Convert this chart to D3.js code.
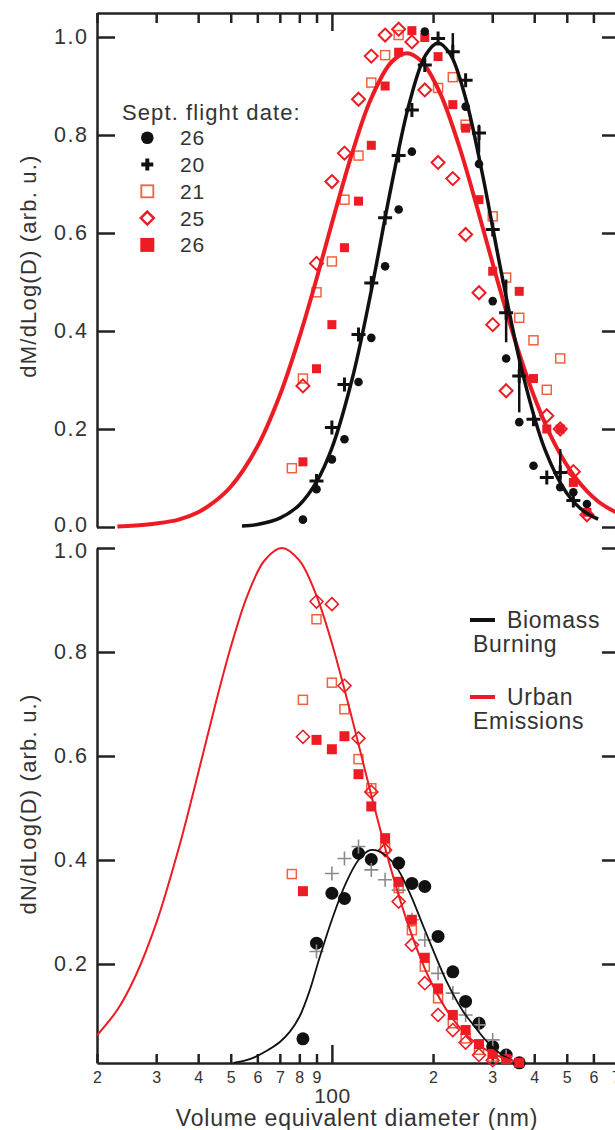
<!DOCTYPE html>
<html><head><meta charset="utf-8">
<script src="https://cdn.jsdelivr.net/npm/d3@7"></script>
<style>
body{margin:0;background:#fff;}
svg{display:block;font-family:"Liberation Sans",Arial,Helvetica,sans-serif;}
</style></head><body>
<svg id="c" width="615" height="1130"></svg>
<script>
// ---------- tick labels / categories ----------
const xTickValues = [20,30,40,50,60,70,80,90,100,200,300,400,500,600,700];
const xTickLabels = ["2","3","4","5","6","7","8","9","100","2","3","4","5","6","7"];
const yTickTop = [0,0.2,0.4,0.6,0.8,1.0];
const yTickBottom = [0.2,0.4,0.6,0.8,1.0];
const legendDates = ["26","20","21","25","26"];
const fitLegend = [["Biomass","Burning"],["Urban","Emissions"]];

// ---------- top panel: dM/dLog(D), [diameter nm, value] ----------
const massDots26 = [[82,0.015],[90,0.077],[100,0.138],[109,0.179],[120,0.296],[131,0.386],[144,0.532],[158,0.648],[173,0.766],[189,1.011],[250,0.858],[274,0.741],[301,0.461],[330,0.344],[361,0.214],[398,0.125],[478,0.081],[523,0.071],[574,0.047]];
const massPlus20 = [[90,0.094],[100,0.203],[109,0.291],[120,0.393],[131,0.498],[144,0.631],[158,0.758],[173,0.851],[189,0.943],[207,0.997],[229,0.970],[250,0.912],[274,0.804],[301,0.607],[330,0.437],[361,0.308],[398,0.220],[436,0.101],[478,0.111],[523,0.054]];
const massPlus20Err = [[229,0.957,1.008],[274,0.764,0.821],[330,0.377,0.505],[361,0.234,0.348],[478,0.084,0.159]];
const massOpenSq21 = [[76,0.120],[82,0.303],[90,0.479],[100,0.542],[109,0.668],[120,0.758],[131,0.907],[144,0.963],[158,1.004],[207,0.896],[229,0.918],[250,0.821],[301,0.634],[330,0.509],[361,0.427],[398,0.381],[436,0.280],[478,0.344]];
const massDiamond25 = [[82,0.288],[90,0.538],[100,0.705],[109,0.763],[120,0.873],[131,0.961],[144,1.004],[158,1.016],[173,0.990],[189,0.892],[207,0.744],[229,0.711],[250,0.597],[274,0.478],[301,0.413],[330,0.278],[436,0.227],[478,0.200],[523,0.113],[574,0.025]];
const massFilledSq26 = [[82,0.133],[90,0.323],[100,0.413],[109,0.570],[120,0.665],[131,0.779],[144,0.900],[158,0.969],[173,1.013],[189,0.999],[207,0.960],[229,0.862],[250,0.814],[274,0.668],[301,0.522],[361,0.481],[398,0.303],[436,0.200],[478,0.200],[523,0.091],[574,0.030]];
const massFitBiomass = [[54,0.002],[60,0.005],[70,0.018],[80,0.045],[90,0.092],[100,0.161],[115,0.303],[130,0.471],[150,0.693],[170,0.865],[190,0.963],[207,0.988],[225,0.965],[250,0.875],[280,0.723],[320,0.516],[370,0.312],[430,0.159],[500,0.069],[560,0.033],[620,0.016]];
const massFitUrban = [[23,0.001],[26,0.003],[30,0.007],[35,0.015],[40,0.030],[45,0.053],[50,0.082],[60,0.164],[70,0.269],[80,0.387],[90,0.506],[100,0.620],[115,0.764],[130,0.870],[150,0.948],[167,0.967],[185,0.950],[210,0.885],[240,0.774],[270,0.654],[310,0.506],[350,0.383],[400,0.266],[460,0.170],[530,0.101],[620,0.052],[720,0.026]];

// ---------- bottom panel: dN/dLog(D) ----------
const numDots26 = [[82,0.056],[90,0.240],[100,0.336],[109,0.326],[120,0.413],[131,0.401],[158,0.394],[173,0.355],[189,0.349],[207,0.253],[229,0.185],[250,0.128],[274,0.086],[301,0.041],[330,0.025],[361,0.010]];
const numPlus20 = [[90,0.224],[100,0.374],[109,0.403],[120,0.426],[131,0.381],[144,0.362],[158,0.342],[173,0.285],[189,0.246],[207,0.182],[229,0.144],[250,0.102],[274,0.083],[301,0.054],[330,0.022]];
const numOpenSq21 = [[76,0.373],[82,0.708],[90,0.863],[100,0.741],[109,0.690],[120,0.594],[131,0.538],[144,0.423],[158,0.346],[173,0.265],[189,0.195],[207,0.134],[229,0.086],[250,0.057],[274,0.035],[301,0.022]];
const numDiamond25 = [[82,0.637],[90,0.897],[100,0.892],[109,0.735],[120,0.634],[131,0.531],[144,0.419],[158,0.320],[173,0.237],[189,0.163],[207,0.102],[229,0.073],[250,0.049],[274,0.025],[301,0.015]];
const numFilledSq26 = [[82,0.340],[90,0.631],[100,0.613],[109,0.638],[120,0.565],[131,0.503],[144,0.442],[158,0.358],[173,0.285],[189,0.212],[207,0.153],[229,0.102],[250,0.073],[274,0.046],[301,0.027],[330,0.017],[361,0.010]];
const numFitBiomass = [[51,0.010],[55,0.014],[59,0.021],[64,0.033],[70,0.050],[75,0.070],[80,0.098],[86,0.150],[91,0.203],[100,0.285],[110,0.355],[120,0.400],[130,0.419],[140,0.415],[155,0.388],[170,0.338],[190,0.262],[220,0.165],[245,0.110],[262,0.085],[290,0.050],[318,0.027],[350,0.012]];
const numFitUrban = [[20,0.063],[23,0.112],[26,0.176],[30,0.278],[35,0.422],[40,0.567],[45,0.699],[50,0.809],[56,0.908],[63,0.976],[71,1.0],[80,0.976],[90,0.908],[100,0.817],[115,0.670],[130,0.533],[150,0.382],[170,0.269],[195,0.172],[225,0.101],[260,0.055],[300,0.028],[340,0.015],[360,0.011]];

// ---------- styling ----------
const RED = "#ed1c24", CORAL = "#f2613f", BLACK = "#111", GREY = "#8a8a8a", TXT = "#333", AX = "#222";

const svg = d3.select("#c");
const x = d3.scaleLog().domain([20,720]).range([97,620]);
const yTop = d3.scaleLinear().domain([0,1.049]).range([527,13]);
const yBot = d3.scaleLinear().domain([0.0096,1.0]).range([1063,548]);

function styleAxis(g, fs, ls){
  g.attr("font-size",null).attr("font-family",null);
  g.selectAll("path.domain").attr("stroke",AX).attr("stroke-width",2.5);
  g.selectAll(".tick line").attr("stroke",AX).attr("stroke-width",2.5);
  g.selectAll("text").attr("fill",TXT).style("font-size",fs+"px").style("letter-spacing",ls+"px");
}

// axes top panel
svg.append("g").attr("transform","translate(97,0)")
  .call(d3.axisLeft(yTop).tickValues(yTickTop).tickFormat(d3.format(".1f")).tickSize(-18).tickSizeOuter(0).tickPadding(8.5))
  .call(g=>styleAxis(g,21.5,1.5))
  .call(g=>g.selectAll(".tick").filter(d=>d===0).select("text").attr("dy","0.2em"));
svg.append("g").attr("transform","translate(620,0)")
  .call(d3.axisRight(yTop).tickValues(yTickTop).tickFormat(()=>"").tickSize(-18).tickSizeOuter(0))
  .call(g=>styleAxis(g,22,0));
svg.append("g").attr("transform","translate(0,13)")
  .call(d3.axisTop(x).tickValues(xTickValues).tickFormat(()=>"").tickSize(-10).tickSizeOuter(0))
  .call(g=>styleAxis(g,16,0))
  .call(g=>g.selectAll(".tick").filter(d=>d===100).select("line").attr("y2",18));

// axes bottom panel
svg.append("g").attr("transform","translate(97,0)")
  .call(d3.axisLeft(yBot).tickValues(yTickBottom).tickFormat(d3.format(".1f")).tickSize(-18).tickSizeOuter(0).tickPadding(8.5))
  .call(g=>styleAxis(g,21.5,1.5))
  .call(g=>g.selectAll(".tick").filter(d=>d===1).select("text").attr("dy","0.42em"));
svg.append("g").attr("transform","translate(620,0)")
  .call(d3.axisRight(yBot).tickValues(yTickBottom).tickFormat(()=>"").tickSize(-18).tickSizeOuter(0))
  .call(g=>styleAxis(g,22,0));
svg.append("g").attr("transform","translate(0,1063)")
  .call(d3.axisBottom(x).tickValues(xTickValues).tickFormat((d,i)=>xTickLabels[i]).tickSize(-9).tickSizeOuter(0).tickPadding(9))
  .call(g=>styleAxis(g,16,0))
  .call(g=>{
    const t = g.selectAll(".tick").filter(d=>d===100);
    t.select("line").attr("y2",-18);
    t.select("text").attr("y",25).style("font-size","21px").style("letter-spacing","0.5px");
  });

// axis titles
svg.append("text").attr("x",357).attr("y",1126).attr("text-anchor","middle")
  .attr("fill",TXT).style("font-size","23px").style("letter-spacing","0.8px")
  .text("Volume equivalent diameter (nm)");
svg.append("text").attr("transform","translate(36,266) rotate(-90)").attr("text-anchor","middle")
  .attr("fill",TXT).style("font-size","22px").style("letter-spacing","1.2px")
  .text("dM/dLog(D) (arb. u.)");
svg.append("text").attr("transform","translate(36,804) rotate(-90)").attr("text-anchor","middle")
  .attr("fill",TXT).style("font-size","22px").style("letter-spacing","1.2px")
  .text("dN/dLog(D) (arb. u.)");

// marker helpers
function squares(g, data, yS, s, fill, stroke, sw){
  g.selectAll(null).data(data).join("rect")
    .attr("x",d=>x(d[0])-s/2).attr("y",d=>yS(d[1])-s/2).attr("width",s).attr("height",s)
    .attr("fill",fill).attr("stroke",stroke).attr("stroke-width",sw);
}
function diamonds(g, data, yS, h, stroke, sw){
  g.selectAll(null).data(data).join("path")
    .attr("d",d=>{const cx=x(d[0]),cy=yS(d[1]);return `M${cx},${cy-h}L${cx+h},${cy}L${cx},${cy+h}L${cx-h},${cy}Z`;})
    .attr("fill","none").attr("stroke",stroke).attr("stroke-width",sw);
}
function pluses(g, data, yS, h, stroke, sw){
  g.selectAll(null).data(data).join("path")
    .attr("d",d=>{const cx=x(d[0]),cy=yS(d[1]);return `M${cx-h},${cy}H${cx+h}M${cx},${cy-h}V${cy+h}`;})
    .attr("fill","none").attr("stroke",stroke).attr("stroke-width",sw);
}
function dots(g, data, yS, r, fill){
  g.selectAll(null).data(data).join("circle")
    .attr("cx",d=>x(d[0])).attr("cy",d=>yS(d[1])).attr("r",r).attr("fill",fill);
}
function curve(g, data, yS, stroke, sw){
  g.append("path").datum(data)
    .attr("d",d3.line().x(d=>x(d[0])).y(d=>yS(d[1])).curve(d3.curveCatmullRom.alpha(0.5)))
    .attr("fill","none").attr("stroke",stroke).attr("stroke-width",sw).attr("stroke-linejoin","round");
}

// ---------- top panel marks ----------
const gt = svg.append("g");
squares(gt, massOpenSq21, yTop, 9, "none", CORAL, 1.5);
diamonds(gt, massDiamond25, yTop, 6.5, RED, 2);
squares(gt, massFilledSq26, yTop, 9, RED, "none", 0);
curve(gt, massFitUrban, yTop, RED, 4);
curve(gt, massFitBiomass, yTop, BLACK, 3.5);
dots(gt, massDots26, yTop, 4.3, BLACK);
pluses(gt, massPlus20, yTop, 7, BLACK, 3);
gt.selectAll(null).data(massPlus20Err).join("line")
  .attr("x1",d=>x(d[0])).attr("x2",d=>x(d[0])).attr("y1",d=>yTop(d[1])).attr("y2",d=>yTop(d[2]))
  .attr("stroke",BLACK).attr("stroke-width",2.5);

// ---------- bottom panel marks ----------
const gb = svg.append("g");
dots(gb, numDots26, yBot, 6.5, BLACK);
pluses(gb, numPlus20, yBot, 7, GREY, 1.6);
squares(gb, numOpenSq21, yBot, 9, "none", CORAL, 1.5);
diamonds(gb, numDiamond25, yBot, 6.5, RED, 1.6);
squares(gb, numFilledSq26, yBot, 10, RED, "none", 0);
curve(gb, numFitBiomass, yBot, BLACK, 1.8);
curve(gb, numFitUrban, yBot, RED, 2);

// ---------- legend: flight dates ----------
const lg = svg.append("g");
lg.append("text").attr("x",122).attr("y",120).attr("fill",TXT)
  .style("font-size","22px").style("letter-spacing","1.1px").text("Sept. flight date:");
const rowY = legendDates.map((d,i)=>137.7+i*26.8);
lg.selectAll(null).data(legendDates).join("text")
  .attr("x",180).attr("y",(d,i)=>rowY[i]+7.5).attr("fill",TXT)
  .style("font-size","21px").style("letter-spacing","0.8px").text(d=>d);
const mx = 147.3;
lg.append("circle").attr("cx",mx).attr("cy",rowY[0]).attr("r",6.3).attr("fill",BLACK);
lg.append("path").attr("d",`M${mx-6},${rowY[1]}H${mx+6}M${mx},${rowY[1]-6}V${rowY[1]+6}`).attr("stroke",BLACK).attr("stroke-width",4);
lg.append("rect").attr("x",mx-6).attr("y",rowY[2]-6).attr("width",12).attr("height",12).attr("fill","none").attr("stroke",CORAL).attr("stroke-width",1.8);
lg.append("path").attr("d",`M${mx},${rowY[3]-6.5}L${mx+6.5},${rowY[3]}L${mx},${rowY[3]+6.5}L${mx-6.5},${rowY[3]}Z`).attr("fill","none").attr("stroke",RED).attr("stroke-width",2.5);
lg.append("rect").attr("x",mx-7).attr("y",rowY[4]-7).attr("width",14).attr("height",14).attr("fill",RED);

// ---------- legend: fits ----------
const fl = svg.append("g");
const fitColors = [BLACK, RED];
const fitY = [620, 697];
fitLegend.forEach((lines,i)=>{
  fl.append("line").attr("x1",470).attr("x2",495).attr("y1",fitY[i]).attr("y2",fitY[i]).attr("stroke",fitColors[i]).attr("stroke-width",4);
  fl.append("text").attr("x",507).attr("y",fitY[i]+8).attr("fill",TXT).style("font-size","23px").style("letter-spacing","0.7px").text(lines[0]);
  fl.append("text").attr("x",473).attr("y",fitY[i]+32).attr("fill",TXT).style("font-size","23px").style("letter-spacing","0.7px").text(lines[1]);
});
</script>
</body></html>
